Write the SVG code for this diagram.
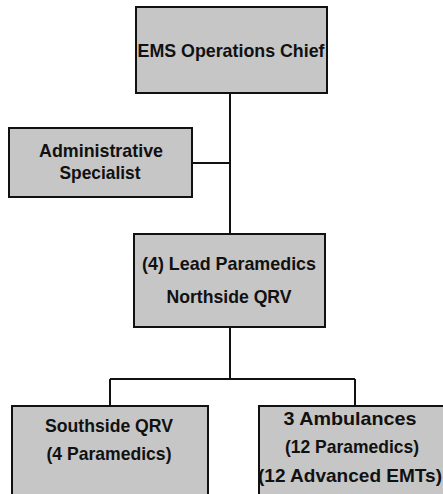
<svg xmlns="http://www.w3.org/2000/svg" width="443" height="494" viewBox="0 0 443 494">
<style>
.box{fill:#c6c6c6;stroke:#111;stroke-width:2}
.t{font-family:"Liberation Sans",Arial,sans-serif;font-weight:bold;font-size:19px;fill:#111;text-anchor:middle}
.c{fill:none;stroke:#111;stroke-width:2}
</style>
<rect width="443" height="494" fill="#fff"/>
<g id="connectors">
<path class="c" d="M230 93 V234 M192 163 H230 M230 327 V379 M110 379 H355 M110 379 V406 M355 379 V406"/>
</g>
<g id="chief">
<rect class="box" x="136" y="7" width="191" height="86"/>
<text class="t" x="231" y="57" textLength="187" lengthAdjust="spacingAndGlyphs">EMS Operations Chief</text>
</g>
<g id="admin">
<rect class="box" x="9" y="128" width="183" height="69"/>
<text class="t" x="101" y="157" textLength="124" lengthAdjust="spacingAndGlyphs">Administrative</text>
<text class="t" x="100" y="179" textLength="81" lengthAdjust="spacingAndGlyphs">Specialist</text>
</g>
<g id="lead">
<rect class="box" x="134" y="234" width="191" height="93"/>
<text class="t" x="229" y="270" textLength="174" lengthAdjust="spacingAndGlyphs">(4) Lead Paramedics</text>
<text class="t" x="229" y="303" textLength="125" lengthAdjust="spacingAndGlyphs">Northside QRV</text>
</g>
<g id="southside">
<rect class="box" x="12" y="406" width="196" height="92"/>
<text class="t" x="109" y="432" textLength="128" lengthAdjust="spacingAndGlyphs">Southside QRV</text>
<text class="t" x="109" y="460" textLength="125" lengthAdjust="spacingAndGlyphs">(4 Paramedics)</text>
</g>
<g id="ambulances">
<rect class="box" x="259" y="406" width="190" height="92"/>
<text class="t" x="350" y="425" textLength="133" lengthAdjust="spacingAndGlyphs">3 Ambulances</text>
<text class="t" x="352" y="453" textLength="134" lengthAdjust="spacingAndGlyphs">(12 Paramedics)</text>
<text class="t" x="350" y="482" textLength="184" lengthAdjust="spacingAndGlyphs">(12 Advanced EMTs)</text>
</g>
</svg>
